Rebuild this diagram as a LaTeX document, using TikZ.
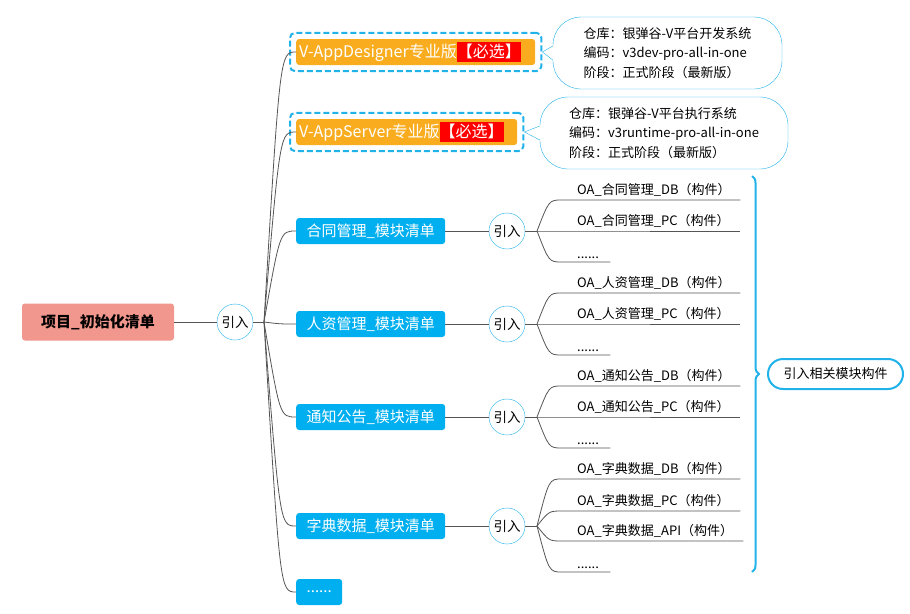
\documentclass[tikz,border=0pt]{standalone}
\usepackage{fontspec}
\setmainfont{Noto Sans CJK SC}
\usetikzlibrary{fit,calc,decorations.pathreplacing}

\definecolor{rootred}{HTML}{F2978D}
\definecolor{modblue}{HTML}{00AFEF}
\definecolor{edorange}{HTML}{F8AC1E}
\definecolor{mustred}{HTML}{FF0000}
\definecolor{lineblue}{HTML}{22B2EA}
\definecolor{linkgray}{HTML}{555555}

\newcommand{\mustpick}{{\setlength{\fboxsep}{0pt}\colorbox{mustred}{\rule[-5pt]{0pt}{20pt}【必选】}}}

\tikzset{
  rootbox/.style={fill=rootred, rounded corners=3pt, minimum width=152pt, minimum height=37pt, font=\fontsize{15}{18}\selectfont\bfseries},
  modbox/.style={fill=modblue, text=white, rounded corners=3pt, anchor=west, minimum width=149pt, minimum height=26pt, inner xsep=0pt, font=\fontsize{15}{18}\selectfont},
  edbox/.style={fill=edorange, text=white, rounded corners=3pt, anchor=west, minimum height=26pt, inner xsep=3pt, inner ysep=0pt, align=left, font=\fontsize{16}{19}\selectfont},
  dashbox/.style={draw=lineblue, line width=2pt, dash pattern=on 6pt off 3pt, rounded corners=5pt, inner sep=6pt},
  refcircle/.style={circle, draw=lineblue, fill=white, minimum size=36pt, inner sep=0pt, font=\fontsize{13.5}{15}\selectfont},
  leaf/.style={anchor=south west, text width=148pt, inner xsep=15pt, inner ysep=3pt, font=\fontsize{13}{15}\selectfont},
  infobubble/.style={draw=lineblue, fill=white, rounded corners=28pt, minimum width=229pt, minimum height=72pt, align=left, font=\fontsize{13}{19.5}\selectfont},
  summarypill/.style={draw=lineblue, fill=white, line width=2pt, rounded corners=15pt, minimum width=135pt, minimum height=30pt, font=\fontsize{13}{15}\selectfont},
  link/.style={draw=linkgray, line width=0.8pt},
}

\begin{document}
\begin{tikzpicture}[x=1pt, y=-1pt]
  \useasboundingbox (0,0) rectangle (910,613);

  % root and first fork
  \node[rootbox] (root) at (98,322) {项目\_初始化清单};
  \node[refcircle] (ref0) at (235,322) {引入};
  \coordinate (fork0) at (264,322);
  \coordinate (bend0) at (280,0);
  \draw[link] (root) -- (ref0);
  \draw[link] (ref0.east) -- (fork0);

  % editions
  \node[edbox, text width=233pt] (designer) at (296,52) {V-AppDesigner专业版\mustpick};
  \node[dashbox, fit=(designer)] (designer-dash) {};
  \node[edbox, text width=215pt] (server) at (296,132) {V-AppServer专业版\mustpick};
  \node[dashbox, fit=(server)] (server-dash) {};

  % modules
  \node[modbox] (contract) at (296,231) {合同管理\_模块清单};
  \node[modbox] (hr) at (296,324) {人资管理\_模块清单};
  \node[modbox] (notice) at (296,417) {通知公告\_模块清单};
  \node[modbox] (dict) at (296,526) {字典数据\_模块清单};
  \node[modbox, minimum width=46pt] (more) at (296,592) {......};

  \foreach \m in {designer,server,contract,hr,notice,dict,more}
    \draw[link] (fork0) .. controls (\m.west -| bend0) .. (\m.west);

  % info bubbles
  \node[infobubble] (devinfo) at (667.5,53) {仓库：银弹谷-V平台开发系统\\编码：v3dev-pro-all-in-one\\阶段：正式阶段（最新版）};
  \node[infobubble, minimum width=248pt] (runinfo) at (664,133) {仓库：银弹谷-V平台执行系统\\编码：v3runtime-pro-all-in-one\\阶段：正式阶段（最新版）};
  \fill[white] (designer-dash.east) -- ($(devinfo.west)+(1.5,-8)$) -- ($(devinfo.west)+(1.5,8)$) -- cycle;
  \draw[lineblue] ($(devinfo.west)+(0,-7)$) -- (designer-dash.east) -- ($(devinfo.west)+(0,7)$);
  \fill[white] (server-dash.east) -- ($(runinfo.west)+(1.5,-8)$) -- ($(runinfo.west)+(1.5,8)$) -- cycle;
  \draw[lineblue] ($(runinfo.west)+(0,-7)$) -- (server-dash.east) -- ($(runinfo.west)+(0,7)$);

  % three-part modules
  \foreach \g/\name/\y in {contract/合同管理/231, hr/人资管理/324, notice/通知公告/417} {
    \node[refcircle] (\g-ref) at (507,\y) {引入};
    \coordinate (\g-fork) at (537,\y);
    \coordinate (\g-bend) at (549,\y);
    \node[leaf] (\g-db) at (562,\y-31) {OA\_\name\_DB（构件）};
    \node[leaf] (\g-pc) at (562,\y) {OA\_\name\_PC（构件）};
    \node[leaf, text width=18pt] (\g-etc) at (562,\y+31) {......};
    \draw[link] (\g) -- (\g-ref);
    \draw[link] (\g-ref.east) -- (\g-fork);
    \foreach \l in {db,pc,etc}
      \draw[link] (\g-fork) .. controls (\g-\l.south west -| \g-bend) .. (\g-\l.south west) -- (\g-\l.south east);
  }

  % dictionary module
  \node[refcircle] (dict-ref) at (507,526) {引入};
  \coordinate (dict-fork) at (537,526);
  \coordinate (dict-bend) at (549,526);
  \node[leaf] (dict-db) at (562,479) {OA\_字典数据\_DB（构件）};
  \node[leaf] (dict-pc) at (562,511) {OA\_字典数据\_PC（构件）};
  \node[leaf, text width=151pt] (dict-api) at (562,541) {OA\_字典数据\_API（构件）};
  \node[leaf, text width=18pt] (dict-etc) at (562,572) {......};
  \draw[link] (dict) -- (dict-ref);
  \draw[link] (dict-ref.east) -- (dict-fork);
  \foreach \l in {db,pc,api,etc}
    \draw[link] (dict-fork) .. controls (dict-\l.south west -| dict-bend) .. (dict-\l.south west) -- (dict-\l.south east);

  % brace and summary
  \coordinate (bracetop) at (752,176);
  \coordinate (bracebottom) at (752,572);
  \draw[lineblue, line width=2pt, decorate, decoration={brace, amplitude=7pt}] (bracetop) -- (bracebottom);
  \node[summarypill] (summary) at (835.5,374) {引入相关模块构件};
\end{tikzpicture}
\end{document}
